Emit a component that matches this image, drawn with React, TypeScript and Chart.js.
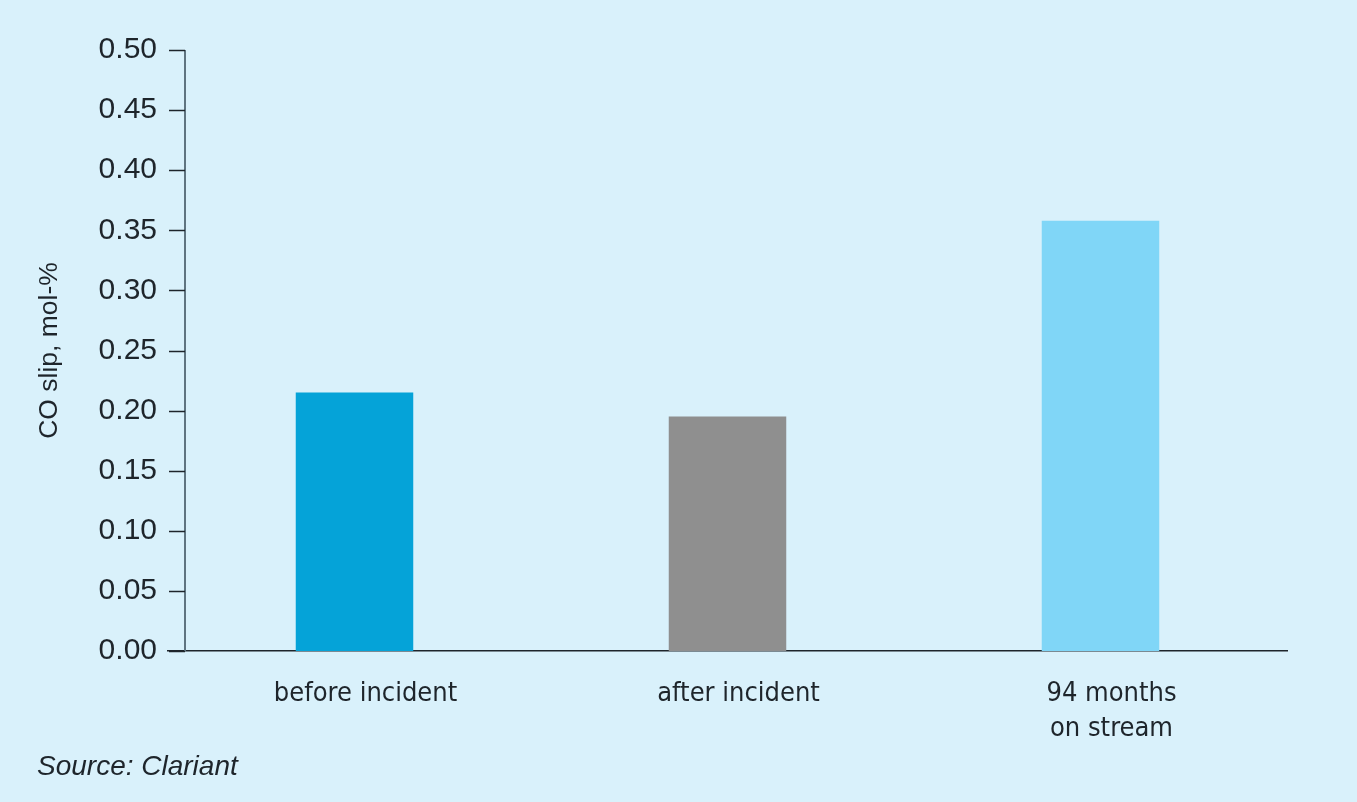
import React, { useEffect, useRef } from "react";
import { Chart, registerables } from "chart.js";

Chart.register(...registerables);

const categories: (string | string[])[] = ["before incident", "after incident", ["94 months", "on stream"]];
const coSlip: number[] = [0.215, 0.195, 0.358];
const barColors: string[] = ["#05a3d8", "#8f8f8f", "#80d6f7"];
const yTitle = "CO slip, mol-%";
const sourceText = "Source: Clariant";
const BG = "#d9f1fb";
const INK = "#1e252b";

const customAxis = {
  id: "customAxis",
  afterDraw(chart: any) {
    const ctx = chart.ctx;
    const y = chart.scales.y;
    const area = chart.chartArea;
    const axisX = 185;
    ctx.save();
    ctx.strokeStyle = "#5f7480";
    ctx.lineWidth = 2;
    ctx.beginPath();
    ctx.moveTo(axisX, y.getPixelForValue(y.max));
    ctx.lineTo(axisX, area.bottom);
    ctx.stroke();
    ctx.strokeStyle = INK;
    ctx.lineWidth = 1.5;
    y.ticks.forEach((t: any) => {
      const py = Math.round(y.getPixelForValue(t.value)) + 0.5;
      ctx.beginPath();
      ctx.moveTo(area.left + 1, py);
      ctx.lineTo(axisX, py);
      ctx.stroke();
    });
    ctx.fillStyle = INK;
    ctx.font = "italic 28px 'Liberation Sans', Arial, sans-serif";
    ctx.textAlign = "left";
    ctx.textBaseline = "alphabetic";
    ctx.fillText(sourceText, 37, 775);
    ctx.restore();
  },
};

export default function App() {
  const ref = useRef<HTMLCanvasElement | null>(null);
  useEffect(() => {
    document.body.style.margin = "0";
    const canvas = ref.current;
    if (!canvas) return;
    const chart = new Chart(canvas, {
      type: "bar",
      data: {
        labels: categories,
        datasets: [
          {
            data: coSlip,
            backgroundColor: barColors,
            borderWidth: 0,
            barPercentage: 1,
            categoryPercentage: 0.315,
          },
        ],
      },
      options: {
        animation: false,
        responsive: false,
        maintainAspectRatio: false,
        layout: { padding: { top: 50, bottom: 60, left: 0, right: 70 } },
        plugins: { legend: { display: false }, tooltip: { enabled: false } },
        scales: {
          x: {
            grid: { display: false, drawTicks: false },
            border: { display: true, color: INK, width: 1.5 },
            ticks: {
              color: INK,
              font: { family: "'Liberation Sans Narrow', 'DejaVu Sans Condensed', Arial, sans-serif", size: 27, lineHeight: 1.3 },
              padding: 25,
              labelOffset: 11,
              maxRotation: 0,
              autoSkip: false,
            },
            afterFit: (s: any) => {
              s.height = 91;
            },
          },
          y: {
            min: 0,
            max: 0.5,
            grid: { display: false, drawTicks: false },
            border: { display: false },
            ticks: {
              stepSize: 0.05,
              color: INK,
              padding: 11,
              font: { family: "'Liberation Sans', Arial, sans-serif", size: 30 },
              callback: (v: any) => Number(v).toFixed(2),
            },
            title: {
              display: true,
              text: yTitle,
              color: INK,
              font: { family: "'Liberation Sans', Arial, sans-serif", size: 26.5 },
              padding: { top: 34, bottom: 0 },
            },
            afterFit: (s: any) => {
              s.width = 168;
            },
          },
        },
      },
      plugins: [customAxis],
    });
    return () => chart.destroy();
  }, []);
  return (
    <div style={{ position: "fixed", left: 0, top: 0, width: 1357, height: 802, background: BG }}>
      <canvas ref={ref} width={1357} height={802} style={{ display: "block" }} />
    </div>
  );
}
